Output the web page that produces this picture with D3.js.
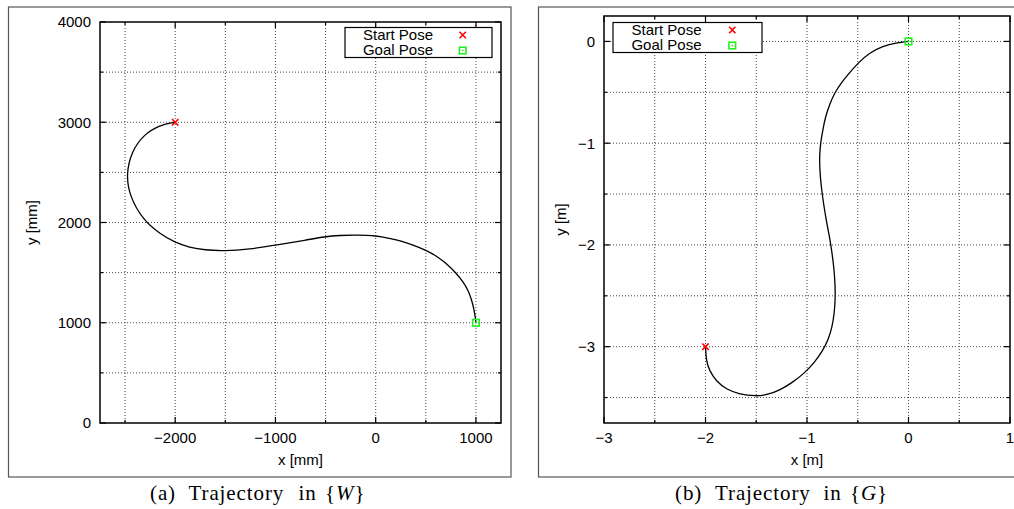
<!DOCTYPE html>
<html>
<head>
<meta charset="utf-8">
<script src="https://cdn.jsdelivr.net/npm/d3@7"></script>
<style>
  body { margin: 0; background: #fff; }
  svg { display: block; }
  text { font-family: "Liberation Sans", Arial, Helvetica, sans-serif; fill: #000; }
  .caption { font-family: "Liberation Serif", "Times New Roman", serif; }
</style>
</head>
<body>
<svg id="fig" width="1014" height="509"></svg>
<script>
// Robot trajectory expressed in the world frame {W}, millimetres (start -> goal)
const worldPathX = [-2000, -2153, -2319, -2436, -2490, -2453, -2320, -2153, -2000, -1860, -1700, -1522, -1256, -990, -691, -508, -359, -193, 7, 140, 239, 372, 505, 605, 705, 804, 871, 921, 958, 982, 996, 1000];
const worldPathY = [3000, 2973, 2873, 2706, 2480, 2257, 2025, 1887, 1800, 1752, 1725, 1716, 1733, 1776, 1825, 1859, 1872, 1875, 1869, 1842, 1819, 1776, 1722, 1666, 1593, 1493, 1410, 1327, 1227, 1127, 1040, 1000];

// Same trajectory expressed in the goal frame {G}, metres (start -> goal)
const goalPathX = [-2, -1.993, -1.961, -1.895, -1.796, -1.665, -1.501, -1.40, -1.271, -1.14, -1.025, -0.926, -0.848, -0.79, -0.753, -0.732, -0.722, -0.722, -0.732, -0.752, -0.778, -0.811, -0.837, -0.860, -0.874, -0.877, -0.867, -0.844, -0.818, -0.778, -0.729, -0.663, -0.590, -0.490, -0.384, -0.253, -0.121, 0];
const goalPathY = [-3, -3.139, -3.238, -3.337, -3.419, -3.468, -3.487, -3.475, -3.43, -3.35, -3.26, -3.155, -3.045, -2.93, -2.81, -2.679, -2.547, -2.415, -2.251, -2.086, -1.922, -1.757, -1.593, -1.428, -1.264, -1.132, -1.0, -0.869, -0.737, -0.622, -0.507, -0.408, -0.318, -0.205, -0.112, -0.046, -0.013, 0];

// Start and goal poses in each frame
const worldStart = [-2000, 3000];
const worldGoal = [1000, 1000];
const goalFrameStart = [-2, -3];
const goalFrameGoal = [0, 0];

// Axis ticks (labelled majors, unlabelled minors)
const worldXMajor = [-2000, -1000, 0, 1000];
const worldXMinor = [-2500, -1500, -500, 500];
const worldYMajor = [0, 1000, 2000, 3000, 4000];
const worldYMinor = [500, 1500, 2500, 3500];
const goalXMajor = [-3, -2, -1, 0, 1];
const goalXMinor = [-2.5, -1.5, -0.5, 0.5];
const goalYMajor = [-3, -2, -1, 0];
const goalYMinor = [-3.5, -2.5, -1.5, -0.5];

const legendLabels = ["Start Pose", "Goal Pose"];

const svg = d3.select("#fig");
const RED = "#ff0000";
const GREEN = "#22ee22";
const FONT = 15;

function drawCross(g, x, y) {
  const s = 3.2;
  g.append("path")
    .attr("d", `M${x - s},${y - s}L${x + s},${y + s}M${x - s},${y + s}L${x + s},${y - s}`)
    .attr("stroke", RED).attr("stroke-width", 1.6).attr("fill", "none");
}

function drawBox(g, x, y) {
  const s = 3.3;
  g.append("rect").attr("x", x - s).attr("y", y - s).attr("width", 2 * s).attr("height", 2 * s)
    .attr("fill", "none").attr("stroke", GREEN).attr("stroke-width", 1.6);
  g.append("rect").attr("x", x - 0.8).attr("y", y - 0.8).attr("width", 1.6).attr("height", 1.6)
    .attr("fill", GREEN);
}

function drawPanel(p) {
  const g = svg.append("g");

  // outer frame of the subfigure
  g.append("rect").attr("x", p.frame[0]).attr("y", p.frame[1])
    .attr("width", p.frame[2]).attr("height", p.frame[3])
    .attr("fill", "none").attr("stroke", "#555").attr("stroke-width", 1.2);

  const x = d3.scaleLinear().domain(p.xDomain).range([p.left, p.right]);
  const y = d3.scaleLinear().domain(p.yDomain).range([p.bottom, p.top]);
  const fmt = d3.format("d");

  // dotted grid
  const grid = g.append("g").attr("stroke", "#444").attr("stroke-width", 1)
    .attr("stroke-dasharray", "1,2");
  p.xMajor.concat(p.xMinor).forEach(v => {
    const px = x(v);
    if (px > p.left + 0.5 && px < p.right - 0.5)
      grid.append("line").attr("x1", px).attr("x2", px).attr("y1", p.top).attr("y2", p.bottom);
  });
  p.yMajor.concat(p.yMinor).forEach(v => {
    const py = y(v);
    if (py > p.top + 0.5 && py < p.bottom - 0.5)
      grid.append("line").attr("y1", py).attr("y2", py).attr("x1", p.left).attr("x2", p.right);
  });

  // inward tick marks on all four sides
  const ticks = g.append("g").attr("stroke", "#000").attr("stroke-width", 1.2);
  const tickSetX = (vals, len) => {
    vals.forEach(v => {
      const px = x(v);
      ticks.append("line").attr("x1", px).attr("x2", px).attr("y1", p.bottom).attr("y2", p.bottom - len);
      ticks.append("line").attr("x1", px).attr("x2", px).attr("y1", p.top).attr("y2", p.top + len);
    });
  };
  const tickSetY = (vals, len) => {
    vals.forEach(v => {
      const py = y(v);
      ticks.append("line").attr("y1", py).attr("y2", py).attr("x1", p.left).attr("x2", p.left + len);
      ticks.append("line").attr("y1", py).attr("y2", py).attr("x1", p.right).attr("x2", p.right - len);
    });
  };
  tickSetX(p.xMajor, 6); tickSetX(p.xMinor, 3);
  tickSetY(p.yMajor, 6); tickSetY(p.yMinor, 3);

  // tick labels
  p.xMajor.forEach(v => {
    g.append("text").attr("x", x(v)).attr("y", p.bottom + 20)
      .attr("text-anchor", "middle").attr("font-size", FONT).text(fmt(v));
  });
  p.yMajor.forEach(v => {
    g.append("text").attr("x", p.left - 9).attr("y", y(v)).attr("dy", "0.36em")
      .attr("text-anchor", "end").attr("font-size", FONT).text(fmt(v));
  });

  // axis titles
  g.append("text").attr("x", (p.left + p.right) / 2).attr("y", 464.5)
    .attr("text-anchor", "middle").attr("font-size", FONT).text(p.xLabel);
  g.append("text").attr("transform", `translate(${p.yLabelX},${(p.top + p.bottom) / 2}) rotate(-90)`)
    .attr("text-anchor", "middle").attr("font-size", FONT).text(p.yLabel);

  // trajectory (smoothed through the sampled points)
  const pts = p.pathX.map((v, i) => [v, p.pathY[i]]);
  const line = d3.line().x(d => x(d[0])).y(d => y(d[1])).curve(d3.curveBasis);
  g.append("path").datum(pts).attr("d", line)
    .attr("fill", "none").attr("stroke", "#000").attr("stroke-width", 1.3);

  // start / goal poses
  drawCross(g, x(p.start[0]), y(p.start[1]));
  drawBox(g, x(p.goal[0]), y(p.goal[1]));

  // plot border
  g.append("rect").attr("x", p.left).attr("y", p.top)
    .attr("width", p.right - p.left).attr("height", p.bottom - p.top)
    .attr("fill", "none").attr("stroke", "#000").attr("stroke-width", 1.5);

  // legend
  const lg = p.legend;
  g.append("rect").attr("x", lg.x).attr("y", lg.y).attr("width", lg.w).attr("height", lg.h)
    .attr("fill", "#fff").attr("stroke", "#000").attr("stroke-width", 1.2);
  legendLabels.forEach((lab, i) => {
    g.append("text").attr("x", lg.textRight).attr("y", lg.y + 12.3 + i * 15)
      .attr("text-anchor", "end").attr("font-size", FONT).text(lab);
  });
  drawCross(g, lg.markerX, lg.y + 7.5);
  drawBox(g, lg.markerX, lg.y + 23);

  // caption: "(x) Trajectory in {F}"
  const cap = svg.append("text").attr("class", "caption")
    .attr("y", 500).attr("font-size", 21).attr("letter-spacing", 0.9);
  cap.append("tspan").attr("x", p.captionX[0]).text(p.captionTag);
  cap.append("tspan").attr("x", p.captionX[1]).text("Trajectory");
  cap.append("tspan").attr("x", p.captionX[2]).text("in");
  cap.append("tspan").attr("x", p.captionX[3]).text("{");
  cap.append("tspan").attr("font-style", "italic").text(p.frameName);
  cap.append("tspan").text("}");
}

drawPanel({
  frame: [8.5, 7, 502.5, 470],
  left: 100, right: 501, top: 22, bottom: 423,
  xDomain: [-2750, 1250], yDomain: [0, 4000],
  xMajor: worldXMajor, xMinor: worldXMinor, yMajor: worldYMajor, yMinor: worldYMinor,
  xLabel: "x [mm]", yLabel: "y [mm]", yLabelX: 37,
  pathX: worldPathX, pathY: worldPathY, start: worldStart, goal: worldGoal,
  legend: { x: 345, y: 27.5, w: 147, h: 30, textRight: 433, markerX: 462.7 },
  captionTag: "(a)", frameName: "W", captionX: [150, 188.5, 298.5, 325]
});

drawPanel({
  frame: [538.5, 7, 500, 470],
  left: 604, right: 1010, top: 16, bottom: 423,
  xDomain: [-3, 1], yDomain: [-3.75, 0.25],
  xMajor: goalXMajor, xMinor: goalXMinor, yMajor: goalYMajor, yMinor: goalYMinor,
  xLabel: "x [m]", yLabel: "y [m]", yLabelX: 566,
  pathX: goalPathX, pathY: goalPathY, start: goalFrameStart, goal: goalFrameGoal,
  legend: { x: 613, y: 22.5, w: 149, h: 30, textRight: 701.5, markerX: 732.3 },
  captionTag: "(b)", frameName: "G", captionX: [675, 715, 823.5, 850]
});
</script>
</body>
</html>
